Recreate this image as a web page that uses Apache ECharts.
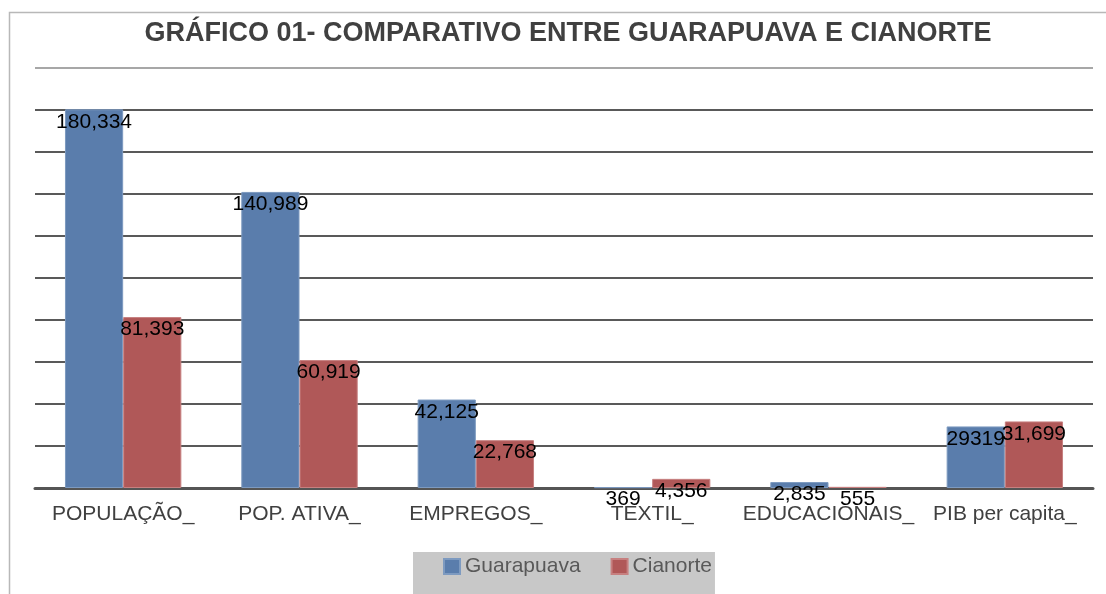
<!DOCTYPE html>
<html><head><meta charset="utf-8">
<script src="https://cdn.jsdelivr.net/npm/echarts@6/dist/echarts.min.js"></script>
<style>html,body{margin:0;padding:0;background:#fff}#c{width:1106px;height:594px}</style>
</head><body><div id="c"></div>
<script>
const categories = ['POPULAÇÃO_', 'POP. ATIVA_', 'EMPREGOS_', 'TEXTIL_', 'EDUCACIONAIS_', 'PIB per capita_'];
const guarapuava = [180334, 140989, 42125, 369, 2835, 29319];
const cianorte = [81393, 60919, 22768, 4356, 555, 31699];
const guarapuavaLabels = ['180,334', '140,989', '42,125', '369', '2,835', '29319'];
const cianorteLabels = ['81,393', '60,919', '22,768', '4,356', '555', '31,699'];

const chart = echarts.init(document.getElementById('c'));
const gridColors = ['#222','#222','#222','#222','#222','#222','#222','#222','#222','#222','#8a8a8a'];
function lbl(arr){
  return {show:true, position:'insideTop', distance:2, color:'#000', fontSize:21,
    fontFamily:'Liberation Sans, Arial, sans-serif',
    formatter:p=>arr[p.dataIndex]};
}
chart.setOption({
  animation:false,
  title:{text:'GRÁFICO 01- COMPARATIVO ENTRE GUARAPUAVA E CIANORTE', left:563, textAlign:'center', top:15,
    textStyle:{fontFamily:'Liberation Sans, Arial, sans-serif', fontWeight:'bold', fontSize:27, color:'#404040'}},
  graphic:[{type:'rect', shape:{x:9.5,y:12.5,width:1110,height:600}, style:{fill:'none', stroke:'#b8b8b8', lineWidth:1.5}, z:-10}],
  legend:{left:413, top:552, padding:[4,3,24,30], backgroundColor:'#c8c8c8', itemWidth:16, itemHeight:15, itemGap:30,
    icon:'rect', textStyle:{fontFamily:'Liberation Sans, Arial, sans-serif', fontSize:21, color:'#595959'},
    data:['Guarapuava','Cianorte']},
  grid:{left:35, right:13, top:68, bottom:106},
  xAxis:{type:'category', data:categories, axisTick:{show:false},
    axisLine:{lineStyle:{color:'#555', width:3}},
    axisLabel:{margin:16, fontSize:21, color:'#404040', fontFamily:'Liberation Sans, Arial, sans-serif', interval:0}},
  yAxis:{type:'value', min:0, max:200000, interval:20000, axisLabel:{show:false}, axisLine:{show:false}, axisTick:{show:false},
    splitLine:{lineStyle:{color:gridColors, width:1.5}}},
  series:[
    {name:'Guarapuava', type:'bar', data:guarapuava, barGap:'0%', barCategoryGap:'34%',
      itemStyle:{color:'#5A7DAC', borderColor:'#7d9ac0', borderWidth:1}, label:lbl(guarapuavaLabels)},
    {name:'Cianorte', type:'bar', data:cianorte,
      itemStyle:{color:'#B05858', borderColor:'#c78080', borderWidth:1}, label:lbl(cianorteLabels)}
  ]
});
</script></body></html>
